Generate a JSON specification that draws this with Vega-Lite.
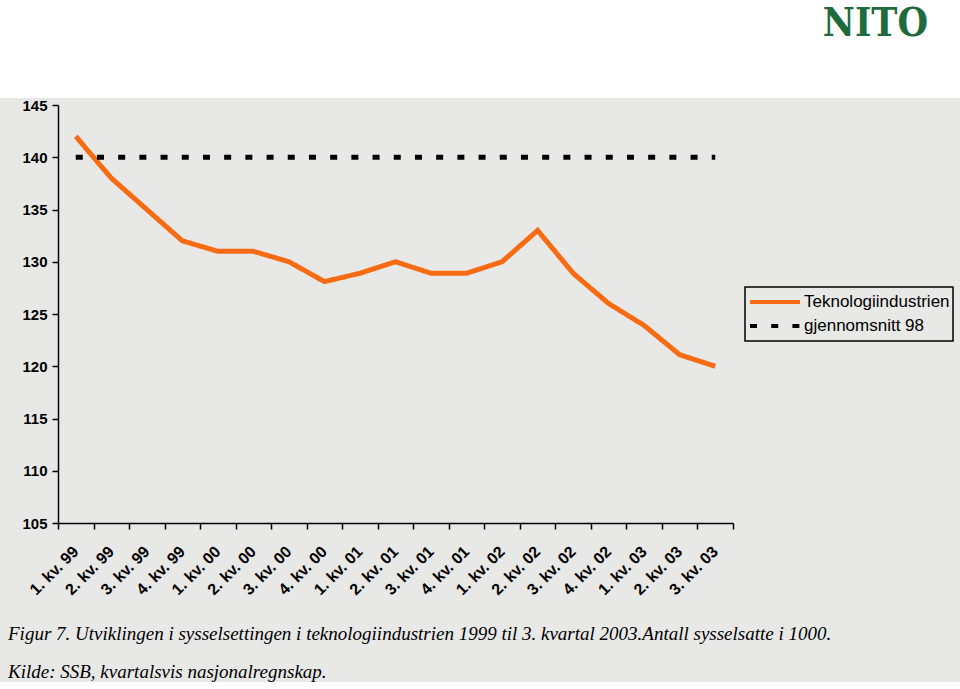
{
  "$schema": "https://vega.github.io/schema/vega-lite/v6.json",
  "background": "#e8e8e7",
  "padding": 0,
  "spacing": 0,
  "title": {
    "text": ["Figur 7. Utviklingen i sysselsettingen i teknologiindustrien 1999 til 3. kvartal 2003.Antall sysselsatte i 1000.", "Kilde: SSB, kvartalsvis nasjonalregnskap."],
    "orient": "bottom",
    "anchor": "start",
    "font": "Liberation Serif",
    "fontStyle": "italic",
    "fontWeight": "normal",
    "fontSize": 19,
    "lineHeight": 38,
    "color": "black",
    "baseline": "top",
    "offset": 27,
    "dx": 8
  },
  "config": {
    "axis": {
      "domainColor": "black",
      "domainWidth": 1.5,
      "tickColor": "black",
      "tickWidth": 1.5,
      "labelColor": "black",
      "labelFont": "Liberation Sans",
      "labelFontSize": 14,
      "labelFontWeight": "bold",
      "grid": false
    },
    "legend": {
      "strokeWidth": 1.5
    }
  },
  "vconcat": [
    {
      "width": 960,
      "height": 98,
      "view": {"fill": "white", "stroke": null},
      "data": {"values": [{"logo": "NITO", "pos": 1}]},
      "mark": {
        "type": "text",
        "align": "right",
        "baseline": "top",
        "font": "DejaVu Serif Condensed",
        "fontWeight": "bold",
        "fontSize": 39,
        "color": "#1f6b3d",
        "dx": -32,
        "dy": 5
      },
      "encoding": {
        "x": {"field": "pos", "type": "quantitative", "scale": {"domain": [0, 1]}, "axis": null},
        "y": {"field": "pos", "type": "quantitative", "scale": {"domain": [0, 1]}, "axis": null},
        "text": {"field": "logo"}
      }
    },
    {
      "width": 733,
      "height": 418,
      "view": {"stroke": null},
      "data": {
        "values": [
          {"kvartal": "1. kv. 99", "serie": "Teknologiindustrien", "verdi": 142},
          {"kvartal": "2. kv. 99", "serie": "Teknologiindustrien", "verdi": 138},
          {"kvartal": "3. kv. 99", "serie": "Teknologiindustrien", "verdi": 135},
          {"kvartal": "4. kv. 99", "serie": "Teknologiindustrien", "verdi": 132},
          {"kvartal": "1. kv. 00", "serie": "Teknologiindustrien", "verdi": 131},
          {"kvartal": "2. kv. 00", "serie": "Teknologiindustrien", "verdi": 131},
          {"kvartal": "3. kv. 00", "serie": "Teknologiindustrien", "verdi": 130},
          {"kvartal": "4. kv. 00", "serie": "Teknologiindustrien", "verdi": 128.1},
          {"kvartal": "1. kv. 01", "serie": "Teknologiindustrien", "verdi": 128.9},
          {"kvartal": "2. kv. 01", "serie": "Teknologiindustrien", "verdi": 130},
          {"kvartal": "3. kv. 01", "serie": "Teknologiindustrien", "verdi": 128.9},
          {"kvartal": "4. kv. 01", "serie": "Teknologiindustrien", "verdi": 128.9},
          {"kvartal": "1. kv. 02", "serie": "Teknologiindustrien", "verdi": 130},
          {"kvartal": "2. kv. 02", "serie": "Teknologiindustrien", "verdi": 133},
          {"kvartal": "3. kv. 02", "serie": "Teknologiindustrien", "verdi": 128.9},
          {"kvartal": "4. kv. 02", "serie": "Teknologiindustrien", "verdi": 126},
          {"kvartal": "1. kv. 03", "serie": "Teknologiindustrien", "verdi": 123.9},
          {"kvartal": "2. kv. 03", "serie": "Teknologiindustrien", "verdi": 121.1},
          {"kvartal": "3. kv. 03", "serie": "Teknologiindustrien", "verdi": 120},
          {"kvartal": "1. kv. 99", "serie": "gjennomsnitt 98", "verdi": 140},
          {"kvartal": "2. kv. 99", "serie": "gjennomsnitt 98", "verdi": 140},
          {"kvartal": "3. kv. 99", "serie": "gjennomsnitt 98", "verdi": 140},
          {"kvartal": "4. kv. 99", "serie": "gjennomsnitt 98", "verdi": 140},
          {"kvartal": "1. kv. 00", "serie": "gjennomsnitt 98", "verdi": 140},
          {"kvartal": "2. kv. 00", "serie": "gjennomsnitt 98", "verdi": 140},
          {"kvartal": "3. kv. 00", "serie": "gjennomsnitt 98", "verdi": 140},
          {"kvartal": "4. kv. 00", "serie": "gjennomsnitt 98", "verdi": 140},
          {"kvartal": "1. kv. 01", "serie": "gjennomsnitt 98", "verdi": 140},
          {"kvartal": "2. kv. 01", "serie": "gjennomsnitt 98", "verdi": 140},
          {"kvartal": "3. kv. 01", "serie": "gjennomsnitt 98", "verdi": 140},
          {"kvartal": "4. kv. 01", "serie": "gjennomsnitt 98", "verdi": 140},
          {"kvartal": "1. kv. 02", "serie": "gjennomsnitt 98", "verdi": 140},
          {"kvartal": "2. kv. 02", "serie": "gjennomsnitt 98", "verdi": 140},
          {"kvartal": "3. kv. 02", "serie": "gjennomsnitt 98", "verdi": 140},
          {"kvartal": "4. kv. 02", "serie": "gjennomsnitt 98", "verdi": 140},
          {"kvartal": "1. kv. 03", "serie": "gjennomsnitt 98", "verdi": 140},
          {"kvartal": "2. kv. 03", "serie": "gjennomsnitt 98", "verdi": 140},
          {"kvartal": "3. kv. 03", "serie": "gjennomsnitt 98", "verdi": 140}
        ]
      },
      "mark": {"type": "line", "strokeWidth": 5, "strokeCap": "butt", "strokeJoin": "miter"},
      "encoding": {
        "x": {
          "field": "kvartal",
          "type": "ordinal",
          "sort": null,
          "bandPosition": 0.5,
          "scale": {"type": "band", "paddingInner": 0, "paddingOuter": 0, "range": [58, 733]},
          "axis": {
            "title": null,
            "labelAngle": -45,
            "labelFontSize": 16,
            "labelPadding": 14,
            "labelOffset": -6,
            "tickSize": 6,
            "tickBand": "extent"
          }
        },
        "y": {
          "field": "verdi",
          "type": "quantitative",
          "scale": {"domain": [105, 145], "zero": false, "nice": false},
          "axis": {
            "values": [105, 110, 115, 120, 125, 130, 135, 140, 145],
            "title": null,
            "offset": -58,
            "labelFontSize": 15,
            "tickSize": 6,
            "labelPadding": 5
          }
        },
        "color": {
          "field": "serie",
          "type": "nominal",
          "scale": {"domain": ["Teknologiindustrien", "gjennomsnitt 98"], "range": ["#f76b12", "black"]},
          "legend": {
            "title": null,
            "orient": "none",
            "legendX": 745,
            "legendY": 287,
            "symbolType": "stroke",
            "symbolSize": 2500,
            "symbolStrokeWidth": 4,
            "clipHeight": 24,
            "padding": 3,
            "rowPadding": 0,
            "labelOffset": 2,
            "labelFont": "Liberation Sans",
            "labelFontSize": 17,
            "labelColor": "black",
            "strokeColor": "black",
            "fillColor": null
          }
        },
        "strokeDash": {
          "field": "serie",
          "type": "nominal",
          "scale": {"domain": ["Teknologiindustrien", "gjennomsnitt 98"], "range": [[1, 0], [7, 14.2]]},
          "legend": null
        }
      }
    }
  ]
}
